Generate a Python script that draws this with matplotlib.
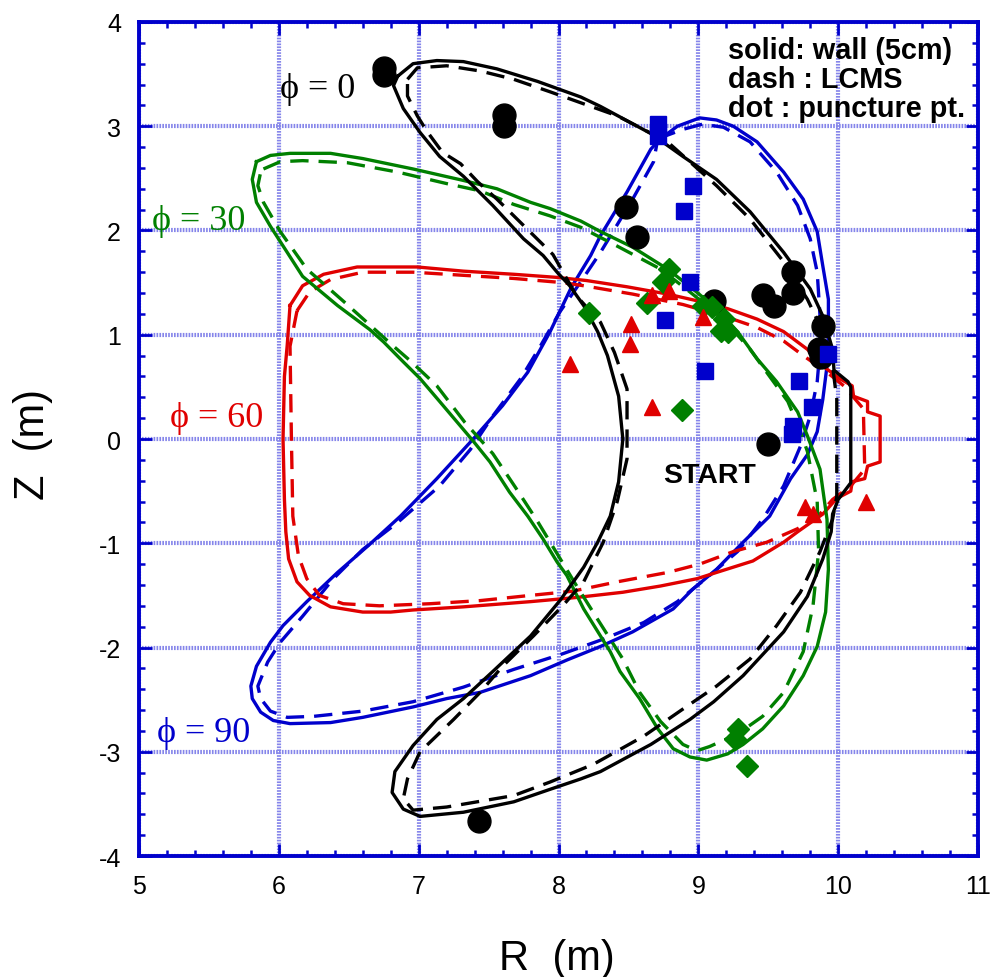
import numpy as np
import matplotlib
matplotlib.use("Agg")
import matplotlib.pyplot as plt
from matplotlib.ticker import MultipleLocator

plt.rcParams["font.family"] = ["Liberation Sans", "DejaVu Sans"]
plt.rcParams["axes.unicode_minus"] = False

# cross sections (R, Z) in m; wall = solid, LCMS = dashed
wall_0 = [
    (6.85, 3.48), (6.96, 3.60), (7.13, 3.63), (7.32, 3.62), (7.56, 3.55), (7.85, 3.43),
    (8.16, 3.28), (8.30, 3.19), (8.66, 2.93), (8.89, 2.71), (9.13, 2.49), (9.37, 2.18),
    (9.61, 1.79), (9.80, 1.44), (9.89, 1.18), (9.96, 0.86), (9.97, 0.66), (10.07, 0.55),
    (10.09, 0.50), (10.09, -0.42), (10.00, -0.58), (9.96, -0.72), (9.95, -0.89), (9.89, -1.15),
    (9.78, -1.51), (9.61, -1.85), (9.32, -2.27), (9.11, -2.52), (8.94, -2.69), (8.66, -2.93),
    (8.30, -3.19), (8.16, -3.26), (7.94, -3.36), (7.68, -3.48), (7.32, -3.58), (7.01, -3.62),
    (6.89, -3.55), (6.81, -3.39), (6.83, -3.19), (6.96, -2.94), (7.13, -2.69), (7.32, -2.49),
    (7.53, -2.23), (7.80, -1.89), (8.01, -1.55), (8.18, -1.23), (8.28, -0.99), (8.37, -0.74),
    (8.43, -0.41), (8.46, 0.00), (8.43, 0.41), (8.35, 0.80), (8.28, 1.03), (8.18, 1.28),
    (8.08, 1.47), (7.99, 1.60), (7.89, 1.76), (7.75, 1.92), (7.53, 2.24), (7.32, 2.52),
    (7.15, 2.71), (7.01, 2.94), (6.89, 3.17), (6.82, 3.39),
]
lcms_0 = [
    (6.92, 3.45), (6.99, 3.56), (7.20, 3.58), (7.44, 3.53), (7.68, 3.45), (7.94, 3.33),
    (8.42, 3.10), (8.78, 2.85), (9.13, 2.43), (9.37, 2.11), (9.61, 1.70), (9.78, 1.34),
    (9.89, 1.03), (9.96, 0.70), (9.99, 0.38), (9.99, -0.55), (9.96, -0.77), (9.87, -1.08),
    (9.73, -1.47), (9.56, -1.79), (9.37, -2.11), (9.13, -2.37), (8.89, -2.59), (8.61, -2.85),
    (8.25, -3.12), (7.94, -3.29), (7.68, -3.42), (7.20, -3.53), (6.96, -3.56), (6.89, -3.45),
    (6.92, -3.26), (7.01, -3.00), (7.25, -2.69), (7.44, -2.43), (7.60, -2.18), (7.82, -1.89),
    (8.03, -1.60), (8.18, -1.37), (8.32, -0.99), (8.42, -0.60), (8.49, -0.19), (8.49, 0.48),
    (8.40, 0.83), (8.30, 1.12), (8.13, 1.37), (7.96, 1.77), (7.56, 2.30), (7.42, 2.47),
    (7.30, 2.64), (7.17, 2.75), (7.06, 2.95), (6.99, 3.10), (6.92, 3.29),
]
wall_30 = [
    (5.84, 2.66), (5.94, 2.72), (6.08, 2.74), (6.37, 2.74), (6.60, 2.69), (6.96, 2.59),
    (7.32, 2.48), (7.56, 2.40), (7.80, 2.27), (7.94, 2.21), (8.16, 2.09), (8.30, 1.99),
    (8.53, 1.84), (8.78, 1.63), (8.96, 1.44), (9.13, 1.25), (9.28, 1.03), (9.42, 0.77),
    (9.56, 0.55), (9.71, 0.26), (9.78, 0.03), (9.87, -0.29), (9.92, -0.77), (9.93, -1.25),
    (9.91, -1.66), (9.85, -1.99), (9.75, -2.27), (9.61, -2.56), (9.46, -2.78), (9.32, -2.93),
    (9.21, -3.02), (9.06, -3.08), (8.94, -3.05), (8.82, -2.97), (8.71, -2.78), (8.58, -2.49),
    (8.44, -2.23), (8.37, -2.04), (8.18, -1.63), (8.06, -1.31), (7.99, -1.18), (7.89, -0.96),
    (7.78, -0.74), (7.65, -0.51), (7.51, -0.22), (7.39, -0.02), (7.27, 0.17), (7.15, 0.36),
    (7.01, 0.58), (6.89, 0.74), (6.75, 0.93), (6.65, 1.05), (6.42, 1.28), (6.17, 1.56),
    (6.06, 1.79), (5.94, 2.04), (5.84, 2.27), (5.81, 2.49),
]
lcms_30 = [
    (5.89, 2.59), (6.01, 2.66), (6.17, 2.67), (6.49, 2.65), (6.85, 2.56), (7.20, 2.45),
    (7.44, 2.38), (7.68, 2.25), (7.94, 2.14), (8.16, 2.03), (8.42, 1.85), (8.73, 1.63),
    (8.94, 1.41), (9.18, 1.15), (9.37, 0.86), (9.51, 0.60), (9.64, 0.36), (9.73, 0.07),
    (9.78, -0.12), (9.85, -0.60), (9.86, -1.08), (9.82, -1.60), (9.75, -2.04), (9.61, -2.43),
    (9.46, -2.66), (9.28, -2.83), (9.08, -2.95), (8.99, -2.99), (8.89, -2.93), (8.73, -2.71),
    (8.58, -2.43), (8.46, -2.11), (8.28, -1.73), (8.13, -1.41), (7.99, -1.10), (7.85, -0.79),
    (7.69, -0.46), (7.53, -0.14), (7.33, 0.16), (7.13, 0.51), (6.94, 0.75), (6.82, 0.89),
    (6.48, 1.30), (6.20, 1.63), (6.01, 1.99), (5.89, 2.27), (5.85, 2.43), (5.87, 2.56),
]
wall_60 = [
    (6.08, 1.28), (6.17, 1.47), (6.32, 1.58), (6.56, 1.65), (6.99, 1.65), (7.32, 1.61),
    (7.68, 1.58), (7.99, 1.55), (8.20, 1.52), (8.49, 1.46), (8.78, 1.39), (9.01, 1.32),
    (9.21, 1.25), (9.42, 1.15), (9.61, 1.03), (9.78, 0.86), (9.89, 0.70), (10.01, 0.58),
    (10.10, 0.51), (10.11, 0.41), (10.21, 0.36), (10.21, 0.26), (10.30, 0.22), (10.30, -0.22),
    (10.21, -0.26), (10.19, -0.38), (10.10, -0.41), (10.09, -0.50), (9.99, -0.57), (9.89, -0.72),
    (9.71, -0.89), (9.61, -0.99), (9.39, -1.17), (9.13, -1.28), (8.99, -1.34), (8.73, -1.41),
    (8.46, -1.47), (8.13, -1.52), (7.80, -1.56), (7.32, -1.61), (6.96, -1.64), (6.80, -1.66),
    (6.60, -1.66), (6.37, -1.61), (6.22, -1.50), (6.13, -1.37), (6.07, -1.15), (6.05, -0.89),
    (6.04, -0.58), (6.03, 0.00), (6.04, 0.60), (6.06, 0.90),
]
lcms_60 = [
    (6.13, 1.23), (6.22, 1.41), (6.37, 1.53), (6.60, 1.60), (6.96, 1.60), (7.32, 1.57),
    (7.68, 1.54), (8.03, 1.50), (8.18, 1.47), (8.53, 1.39), (8.89, 1.29), (9.18, 1.18),
    (9.42, 1.07), (9.61, 0.94), (9.75, 0.80), (9.92, 0.64), (10.04, 0.51), (10.18, 0.29),
    (10.19, -0.29), (10.09, -0.45), (9.96, -0.58), (9.85, -0.75), (9.71, -0.86), (9.49, -0.99),
    (9.25, -1.08), (9.01, -1.20), (8.78, -1.28), (8.42, -1.37), (8.10, -1.46), (7.80, -1.50),
    (7.44, -1.55), (7.08, -1.58), (6.72, -1.60), (6.46, -1.58), (6.29, -1.50), (6.20, -1.34),
    (6.14, -1.12), (6.10, -0.74), (6.09, 0.00), (6.08, 0.89),
]
wall_90 = [
    (8.73, 2.88), (8.85, 3.00), (9.01, 3.08), (9.13, 3.06), (9.25, 3.00), (9.42, 2.85),
    (9.61, 2.56), (9.75, 2.30), (9.85, 1.99), (9.89, 1.66), (9.93, 1.34), (9.93, 1.03),
    (9.92, 0.70), (9.89, 0.38), (9.85, 0.07), (9.78, -0.15), (9.66, -0.38), (9.51, -0.74),
    (9.32, -0.99), (9.13, -1.25), (8.96, -1.44), (8.82, -1.63), (8.53, -1.85), (8.30, -1.99),
    (8.06, -2.12), (7.80, -2.27), (7.44, -2.43), (7.20, -2.49), (6.96, -2.57), (6.60, -2.67),
    (6.37, -2.72), (6.08, -2.73), (5.96, -2.70), (5.87, -2.62), (5.81, -2.49), (5.80, -2.37),
    (5.84, -2.18), (5.94, -1.95), (6.03, -1.79), (6.20, -1.56), (6.42, -1.28), (6.65, -1.01),
    (6.87, -0.74), (7.13, -0.38), (7.39, 0.00), (7.60, 0.32), (7.78, 0.64), (7.94, 1.03),
    (8.09, 1.45), (8.23, 1.76), (8.30, 1.95), (8.49, 2.37), (8.66, 2.78),
]
lcms_90 = [
    (8.71, 2.88), (8.89, 2.97), (9.03, 3.02), (9.18, 2.99), (9.37, 2.85), (9.56, 2.56),
    (9.71, 2.24), (9.80, 1.92), (9.85, 1.60), (9.87, 1.18), (9.87, 0.86), (9.85, 0.55),
    (9.80, 0.22), (9.73, -0.07), (9.61, -0.45), (9.46, -0.77), (9.28, -1.08), (9.08, -1.31),
    (8.85, -1.56), (8.61, -1.76), (8.32, -1.92), (8.03, -2.06), (7.68, -2.21), (7.32, -2.38),
    (6.96, -2.52), (6.60, -2.61), (6.25, -2.66), (6.06, -2.67), (5.94, -2.61), (5.87, -2.49),
    (5.85, -2.37), (5.92, -2.14), (6.01, -1.95), (6.17, -1.70), (6.39, -1.34), (6.60, -1.06),
    (6.85, -0.80), (7.15, -0.45), (7.37, -0.10), (7.53, 0.22), (7.73, 0.58), (7.87, 0.89),
    (8.01, 1.22), (8.16, 1.51), (8.30, 1.79), (8.53, 2.30), (8.68, 2.66),
]

# puncture points
pts_0 = [(6.75, 3.56), (6.75, 3.49), (7.61, 3.11), (7.61, 3.00), (8.48, 2.23), (8.56, 1.94),
         (9.68, 1.60), (9.46, 1.38), (9.54, 1.28), (9.68, 1.40), (9.11, 1.32), (9.89, 1.08),
         (9.86, 0.86), (9.88, 0.79), (9.50, -0.05), (7.43, -3.66)]
pts_90 = [(8.71, 3.02), (8.71, 2.91), (8.96, 2.43), (8.90, 2.19), (8.94, 1.51), (8.76, 1.14),
          (9.05, 0.65), (9.93, 0.82), (9.72, 0.56), (9.81, 0.31), (9.68, 0.12), (9.67, 0.05)]
pts_30 = [(8.79, 1.63), (8.75, 1.51), (8.63, 1.30), (8.22, 1.21), (9.03, 1.28), (9.10, 1.27),
          (9.18, 1.15), (9.16, 1.04), (9.21, 1.03), (8.88, 0.28), (9.28, -2.78), (9.26, -2.88),
          (9.35, -3.14)]
pts_60 = [(8.08, 0.72), (8.52, 1.10), (8.51, 0.91), (8.67, 0.31), (8.67, 1.38), (8.79, 1.42),
          (9.03, 1.17), (9.76, -0.65), (9.82, -0.72), (10.20, -0.60)]

BLACK = "black"
GREEN = "#008000"
RED = "#e00000"
BLUE = "#0000cc"


def closed(pts):
    a = np.array(pts + pts[:1])
    return a[:, 0], a[:, 1]


fig = plt.figure(figsize=(9.9, 9.78), dpi=100)
ax = fig.add_axes([0.1404, 0.1237, 0.8475, 0.8528])

ax.set_xlim(5, 11)
ax.set_ylim(-4, 4)
ax.xaxis.set_major_locator(MultipleLocator(1))
ax.yaxis.set_major_locator(MultipleLocator(1))
ax.xaxis.set_minor_locator(MultipleLocator(0.2))
ax.yaxis.set_minor_locator(MultipleLocator(0.2))
ax.grid(which="major", color="#8585ea", lw=3.0, ls=(0, (0.4, 0.3)), zorder=0)
for sp in ax.spines.values():
    sp.set_color(BLUE)
    sp.set_linewidth(2.8)
ax.tick_params(which="both", direction="in", top=True, right=True, colors=BLUE,
               labelcolor="black", labelsize=18, pad=13)
ax.tick_params(which="major", length=9, width=2)
ax.tick_params(which="minor", length=4.5, width=1.8)

dash = (0, (5.5, 3.0))
for wall, lcms, col in [(wall_90, lcms_90, BLUE), (wall_60, lcms_60, RED),
                        (wall_30, lcms_30, GREEN), (wall_0, lcms_0, BLACK)]:
    r, z = closed(wall)
    ax.plot(r, z, color=col, lw=2.4, zorder=2)
    r, z = closed(lcms)
    ax.plot(r, z, color=col, lw=2.4, ls=dash, zorder=2)

for pts, mk, ms, col in [(pts_0, "o", 16.5, BLACK), (pts_90, "s", 11, BLUE),
                         (pts_30, "D", 11, GREEN), (pts_60, "^", 11, RED)]:
    a = np.array(pts)
    ax.plot(a[:, 0], a[:, 1], ls="none", marker=mk, ms=ms, color=col,
            mec=col, zorder=4)

serif = ["Liberation Serif", "DejaVu Serif"]
phi = "\u03d5"
ax.text(6.01, 3.28, phi + " = 0", color=BLACK, fontsize=26, family=serif, va="baseline")
ax.text(5.09, 2.01, phi + " = 30", color=GREEN, fontsize=26, family=serif, va="baseline")
ax.text(5.22, 0.125, phi + " = 60", color=RED, fontsize=26, family=serif, va="baseline")
ax.text(5.13, -2.90, phi + " = 90", color=BLUE, fontsize=26, family=serif, va="baseline")

ax.text(8.75, -0.41, "START", fontsize=20.5, fontweight="bold", va="baseline")
ax.text(9.21, 3.655, "solid: wall (5cm)", fontsize=20.8, fontweight="bold", va="baseline")
ax.text(9.21, 3.376, "dash : LCMS", fontsize=20.8, fontweight="bold", va="baseline")
ax.text(9.21, 3.098, "dot : puncture pt.", fontsize=20.8, fontweight="bold", va="baseline")

fig.text(557 / 990, 1 - 970 / 978, "R  (m)", fontsize=30, ha="center", va="baseline")
fig.text(33 / 990, 1 - 445 / 978, "Z  (m)", fontsize=30, ha="center", va="center",
         rotation=90)

fig.savefig("out.png", dpi=100)
